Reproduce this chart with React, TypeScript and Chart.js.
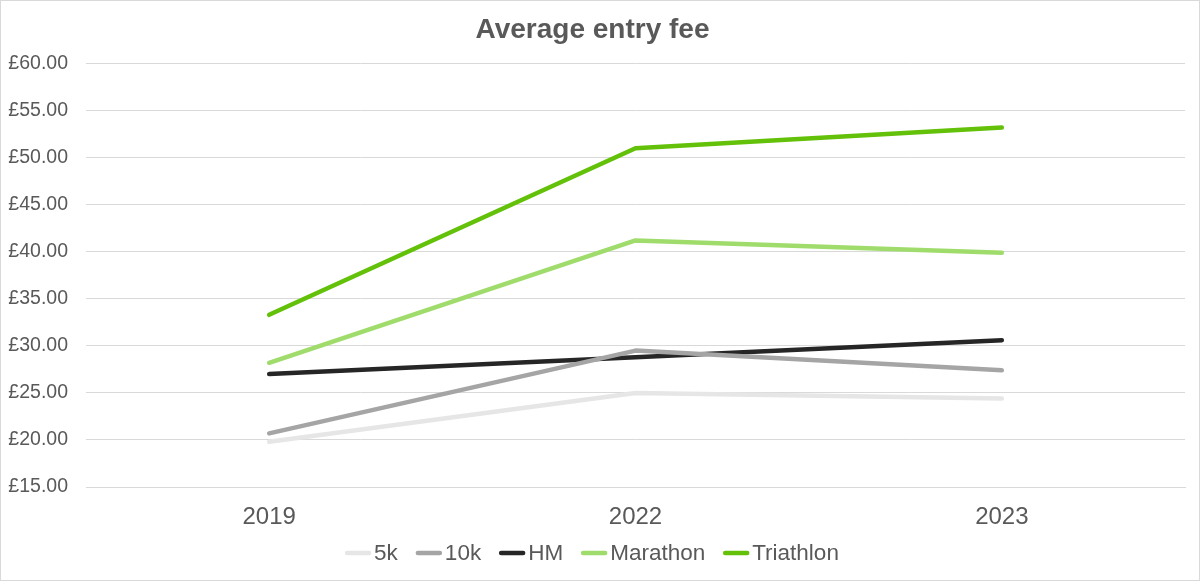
import React, { useEffect, useRef } from "react";
import { Chart, registerables } from "chart.js";

Chart.register(...registerables);

const categories = ["2019", "2022", "2023"];
const fee5k = [19.8, 25.0, 24.4];
const fee10k = [20.7, 29.5, 27.4];
const feeHM = [27.0, 28.8, 30.6];
const feeMarathon = [28.2, 41.2, 39.9];
const feeTriathlon = [33.3, 51.0, 53.2];
const yTicks = [15, 20, 25, 30, 35, 40, 45, 50, 55, 60];

const FONT = "'Liberation Sans', Arial, sans-serif";
const TEXT = "#595959";

const legendPlugin = {
  id: "bottomLegend",
  afterDraw(chart: any) {
    const ctx = chart.ctx as CanvasRenderingContext2D;
    const ds = chart.data.datasets;
    const size = 22.5;
    const markW = 26;
    const gapText = 3;
    const gapItem = 18;
    ctx.save();
    ctx.font = `${size}px ${FONT}`;
    const widths = ds.map((d: any) => markW + gapText + ctx.measureText(d.label).width);
    const total = widths.reduce((a: number, b: number) => a + b, 0) + gapItem * (ds.length - 1);
    let x = 592 - total / 2;
    const y = 553;
    ds.forEach((d: any, i: number) => {
      ctx.strokeStyle = d.borderColor;
      ctx.lineWidth = 4.5;
      ctx.lineCap = "round";
      ctx.beginPath();
      ctx.moveTo(x + 2, y);
      ctx.lineTo(x + markW - 2, y);
      ctx.stroke();
      ctx.fillStyle = TEXT;
      ctx.textBaseline = "middle";
      ctx.textAlign = "left";
      ctx.fillText(d.label, x + markW + gapText, y + 1);
      x += widths[i] + gapItem;
    });
    ctx.restore();
  },
};

export default function App() {
  const ref = useRef<HTMLCanvasElement | null>(null);
  useEffect(() => {
    if (!ref.current) return;
    const mk = (label: string, data: number[], color: string) => ({
      label,
      data,
      borderColor: color,
      backgroundColor: color,
      borderWidth: 4.5,
      pointRadius: 0,
      tension: 0,
      borderCapStyle: "round" as const,
      borderJoinStyle: "round" as const,
    });
    const chart = new Chart(ref.current, {
      type: "line",
      data: {
        labels: categories,
        datasets: [
          mk("5k", fee5k, "#e6e6e6"),
          mk("10k", fee10k, "#a5a5a5"),
          mk("HM", feeHM, "#262626"),
          mk("Marathon", feeMarathon, "#9fdc6c"),
          mk("Triathlon", feeTriathlon, "#64c10a"),
        ],
      },
      plugins: [legendPlugin],
      options: {
        animation: false,
        responsive: false,
        maintainAspectRatio: false,
        layout: { padding: { top: 10, left: 0, right: 15, bottom: 51 } },
        plugins: {
          title: {
            display: true,
            text: "Average entry fee",
            color: TEXT,
            font: { family: FONT, size: 28, weight: "bold" },
            padding: { top: 3, bottom: 17 },
          },
          legend: { display: false },
          tooltip: { enabled: false },
        },
        scales: {
          x: {
            offset: true,
            grid: { display: false, drawTicks: false, tickLength: 0 },
            border: { display: true, color: "#d9d9d9" },
            ticks: { color: TEXT, font: { family: FONT, size: 24 }, padding: 16 },
            afterFit: (s: any) => {
              s.height = 43;
            },
          },
          y: {
            min: 15,
            max: 60,
            afterBuildTicks: (s: any) => {
              s.ticks = yTicks.map((v) => ({ value: v }));
            },
            afterFit: (s: any) => {
              s.width = 86;
            },
            grid: { color: "#d9d9d9", drawTicks: false, lineWidth: 1 },
            border: { display: false },
            ticks: {
              color: TEXT,
              font: { family: FONT, size: 19.5 },
              padding: 18,
              callback: (v: any) => "£" + Number(v).toFixed(2),
            },
          },
        },
      },
    });
    return () => chart.destroy();
  }, []);
  return (
    <div
      style={{
        position: "fixed",
        left: 0,
        top: 0,
        width: 1200,
        height: 581,
        background: "#fff",
      }}
    >
      <canvas ref={ref} width={1200} height={581} style={{ display: "block" }} />
      <div
        style={{
          position: "absolute",
          left: 0,
          top: 0,
          width: 1200,
          height: 581,
          boxSizing: "border-box",
          border: "1px solid #d9d9d9",
          pointerEvents: "none",
        }}
      />
    </div>
  );
}
